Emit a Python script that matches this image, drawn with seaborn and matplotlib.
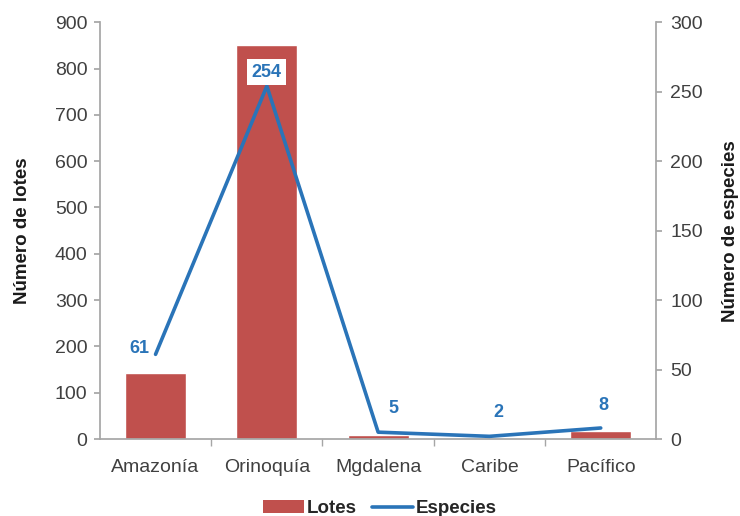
import matplotlib
matplotlib.use("Agg")
import matplotlib.pyplot as plt
import seaborn as sns
import pandas as pd
from matplotlib.patches import Patch
from matplotlib.lines import Line2D

regiones = ["Amazonía", "Orinoquía", "Mgdalena", "Caribe", "Pacífico"]
lotes = [143, 850, 8, 0, 18]
especies = [61, 254, 5, 2, 8]

left_ticks = [0, 100, 200, 300, 400, 500, 600, 700, 800, 900]
right_ticks = [0, 50, 100, 150, 200, 250, 300]

RED = "#c0504d"
BLUE = "#2a74b8"
GRAY = "#a6a6a6"
TXT = "#404040"

sns.set_theme(style="white")
plt.rcParams["font.family"] = ["Liberation Sans", "DejaVu Sans"]

df = pd.DataFrame({"Región": regiones, "Lotes": lotes, "Especies": especies})

fig, ax = plt.subplots(figsize=(7.4, 5.16), dpi=100)
fig.subplots_adjust(left=0.135, right=0.887, top=0.957, bottom=0.149)

sns.barplot(data=df, x="Región", y="Lotes", color=RED, width=0.55,
            saturation=1, ax=ax, zorder=2)
ax.set_xlim(-0.5, len(regiones) - 0.5)
ax.set_ylim(0, 900)
ax.set_yticks(left_ticks)
ax.set_xlabel("")
ax.set_ylabel("Número de lotes", fontsize=13.5, fontweight="bold", color="#1a1a1a", labelpad=17)

ax2 = ax.twinx()
sns.lineplot(data=df, x="Región", y="Especies", color=BLUE, linewidth=2.6,
             sort=False, ax=ax2, zorder=3)
ax2.set_ylim(0, 300)
ax2.set_yticks(right_ticks)
ax2.set_xlim(-0.5, len(regiones) - 0.5)
ax2.set_ylabel("Número de especies", fontsize=13.5, fontweight="bold", color="#1a1a1a", labelpad=14)

# Spines and ticks styled after a spreadsheet chart
for a in (ax, ax2):
    for s in a.spines.values():
        s.set_visible(False)
    a.grid(False)
ax.spines["left"].set_visible(True)
ax.spines["left"].set_color(GRAY)
ax.spines["bottom"].set_visible(True)
ax.spines["bottom"].set_color(GRAY)
ax2.spines["right"].set_visible(True)
ax2.spines["right"].set_color(GRAY)

ax.tick_params(axis="y", left=True, length=4, color=GRAY, labelsize=14, labelcolor=TXT, pad=5)
ax2.tick_params(axis="y", right=True, length=4, color=GRAY, labelsize=14, labelcolor=TXT, pad=6)
ax.set_xticks(range(len(regiones)))
ax.set_xticklabels(regiones)
ax.tick_params(axis="x", bottom=False, labelsize=14, labelcolor=TXT, pad=8)
# category separators on the bottom axis
ax.set_xticks([i + 0.5 for i in range(len(regiones) - 1)], minor=True)
ax.tick_params(axis="x", which="minor", bottom=True, length=5, color=GRAY)

# Data labels for species counts (offsets in points from each line vertex)
offsets = [(-12, 4), (0, 10), (11, 17), (6.5, 17), (2, 16)]
for i, (v, off) in enumerate(zip(especies, offsets)):
    kw = {}
    if v == max(especies):
        kw["bbox"] = dict(boxstyle="square,pad=0.25", fc="white", ec="none")
    ax2.annotate(str(v), xy=(i, v), xytext=off, textcoords="offset points",
                 ha="center", va="center", fontsize=13, fontweight="bold",
                 color=BLUE, zorder=5, **kw)

handles = [Patch(facecolor=RED, edgecolor="none"),
           Line2D([0], [0], color=BLUE, linewidth=2.6)]
leg = fig.legend(handles, ["Lotes", "Especies"], loc="lower center",
                 bbox_to_anchor=(0.513, -0.035), ncol=2, frameon=False,
                 prop={"size": 13.5, "weight": "bold"}, handlelength=2.2,
                 handletextpad=0.15, columnspacing=0.8)
for t in leg.get_texts():
    t.set_color("#262626")

fig.savefig("out.png", dpi=100)
